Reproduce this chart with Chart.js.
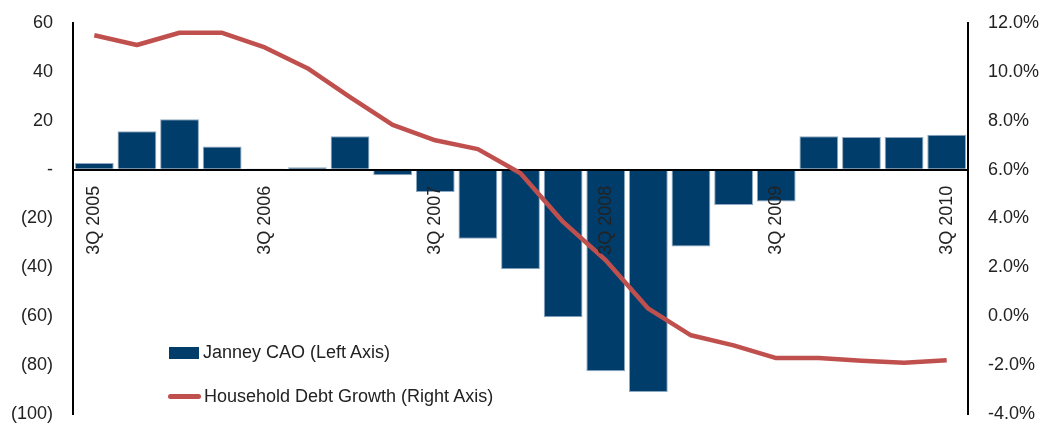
<!DOCTYPE html>
<html>
<head>
<meta charset="utf-8">
<script src="https://cdn.jsdelivr.net/npm/chart.js@4"></script>
<style>
  html, body { margin: 0; padding: 0; background: #fff; }
  #wrap { position: relative; width: 1045px; height: 424px; }
  #chart { position: absolute; left: 0; top: 0; }
  .legend { position: absolute; left: 0; top: 0; font: 18px "Liberation Sans", Arial, sans-serif; color: #222; }
  .legend div { position: absolute; white-space: nowrap; }
  .swatch-bar { background: #003d6b; width: 30px; height: 12px; }
  .swatch-line { background: #c0504d; width: 33px; height: 5px; border-radius: 3px; }
</style>
</head>
<body>
<div id="wrap">
  <canvas id="chart" width="1045" height="424"></canvas>
  <div class="legend">
    <div class="swatch-bar" style="left:169px; top:347px;"></div>
    <div style="left:203px; top:342px;">Janney CAO (Left Axis)</div>
    <div class="swatch-line" style="left:168px; top:394px;"></div>
    <div style="left:204px; top:386px;">Household Debt Growth (Right Axis)</div>
  </div>
</div>
<script>
// trimestres 3Q 2005 -> 3Q 2010
const quarters = [
  '3Q 2005', '4Q 2005', '1Q 2006', '2Q 2006',
  '3Q 2006', '4Q 2006', '1Q 2007', '2Q 2007',
  '3Q 2007', '4Q 2007', '1Q 2008', '2Q 2008',
  '3Q 2008', '4Q 2008', '1Q 2009', '2Q 2009',
  '3Q 2009', '4Q 2009', '1Q 2010', '2Q 2010',
  '3Q 2010'
];

const janneyCAO = [
  2.7, 15.7, 20.6, 9.5, 0.5, 1.0, 13.7, -2.3,
  -9.2, -28.3, -40.8, -60.4, -82.5, -91.0, -31.5, -14.5,
  -13.0, 13.7, 13.3, 13.3, 14.3
];

const householdDebtGrowth = [
  11.5, 11.1, 11.6, 11.6, 11.0, 10.15, 8.97, 7.83,
  7.2, 6.84, 5.85, 3.86, 2.29, 0.31, -0.78, -1.19,
  -1.71, -1.71, -1.82, -1.9, -1.8
];

// étiquettes affichées (une par an)
const shownLabels = ['3Q 2005', '3Q 2006', '3Q 2007', '3Q 2008', '3Q 2009', '3Q 2010'];

const font = { family: '"Liberation Sans", Arial, sans-serif', size: 18, lineHeight: 1 };

// étiquettes de l'axe X dessinées verticalement sous la ligne zéro
const quarterLabels = {
  id: 'quarterLabels',
  afterDatasetsDraw(chart) {
    const ctx = chart.ctx;
    const x = chart.scales.x;
    const y = chart.scales.y;
    const y0 = y.getPixelForValue(0);
    ctx.save();
    ctx.font = font.size + 'px ' + font.family;
    ctx.fillStyle = '#222';
    ctx.textAlign = 'right';
    ctx.textBaseline = 'middle';
    quarters.forEach((q, i) => {
      if (!shownLabels.includes(q)) return;
      ctx.save();
      ctx.translate(x.getPixelForValue(i), y0 + 16);
      ctx.rotate(-Math.PI / 2);
      ctx.fillText(q, 0, 0);
      ctx.restore();
    });
    ctx.restore();
  }
};

new Chart(document.getElementById('chart'), {
  data: {
    labels: quarters,
    datasets: [
      {
        type: 'line',
        label: 'Household Debt Growth (Right Axis)',
        data: householdDebtGrowth,
        yAxisID: 'y1',
        borderColor: '#c0504d',
        borderWidth: 4.5,
        pointRadius: 0,
        tension: 0,
        borderJoinStyle: 'round',
        order: 0
      },
      {
        type: 'bar',
        label: 'Janney CAO (Left Axis)',
        data: janneyCAO,
        yAxisID: 'y',
        backgroundColor: '#003d6b',
        borderColor: '#8fa9c0',
        borderWidth: 1,
        barPercentage: 0.91,
        categoryPercentage: 1,
        order: 1
      }
    ]
  },
  options: {
    responsive: false,
    animation: false,
    layout: { padding: { top: 23, bottom: 10, left: 0, right: 0 } },
    plugins: { legend: { display: false }, tooltip: { enabled: false } },
    scales: {
      x: { display: false, offset: true },
      y: {
        position: 'left',
        min: -100,
        max: 60,
        afterFit: s => { s.width = 73; },
        border: { display: true, color: '#000', width: 2 },
        grid: {
          drawTicks: true,
          tickLength: 20,
          tickColor: 'rgba(0,0,0,0)',
          color: c => (c.tick && c.tick.value === 0 ? '#000' : 'rgba(0,0,0,0)'),
          lineWidth: 2
        },
        ticks: {
          stepSize: 20,
          padding: 0,
          color: '#222',
          font: font,
          callback: v => (v === 0 ? '-' : v < 0 ? '(' + Math.abs(v) + ')' : String(v))
        }
      },
      y1: {
        position: 'right',
        min: -4,
        max: 12,
        afterFit: s => { s.width = 77; },
        border: { display: true, color: '#000', width: 2 },
        grid: {
          display: true,
          drawOnChartArea: false,
          drawTicks: true,
          tickLength: 20,
          tickColor: 'rgba(0,0,0,0)'
        },
        ticks: {
          stepSize: 2,
          padding: 0,
          color: '#222',
          font: font,
          callback: v => v.toFixed(1) + '%'
        }
      }
    }
  },
  plugins: [quarterLabels]
});
</script>
</body>
</html>
